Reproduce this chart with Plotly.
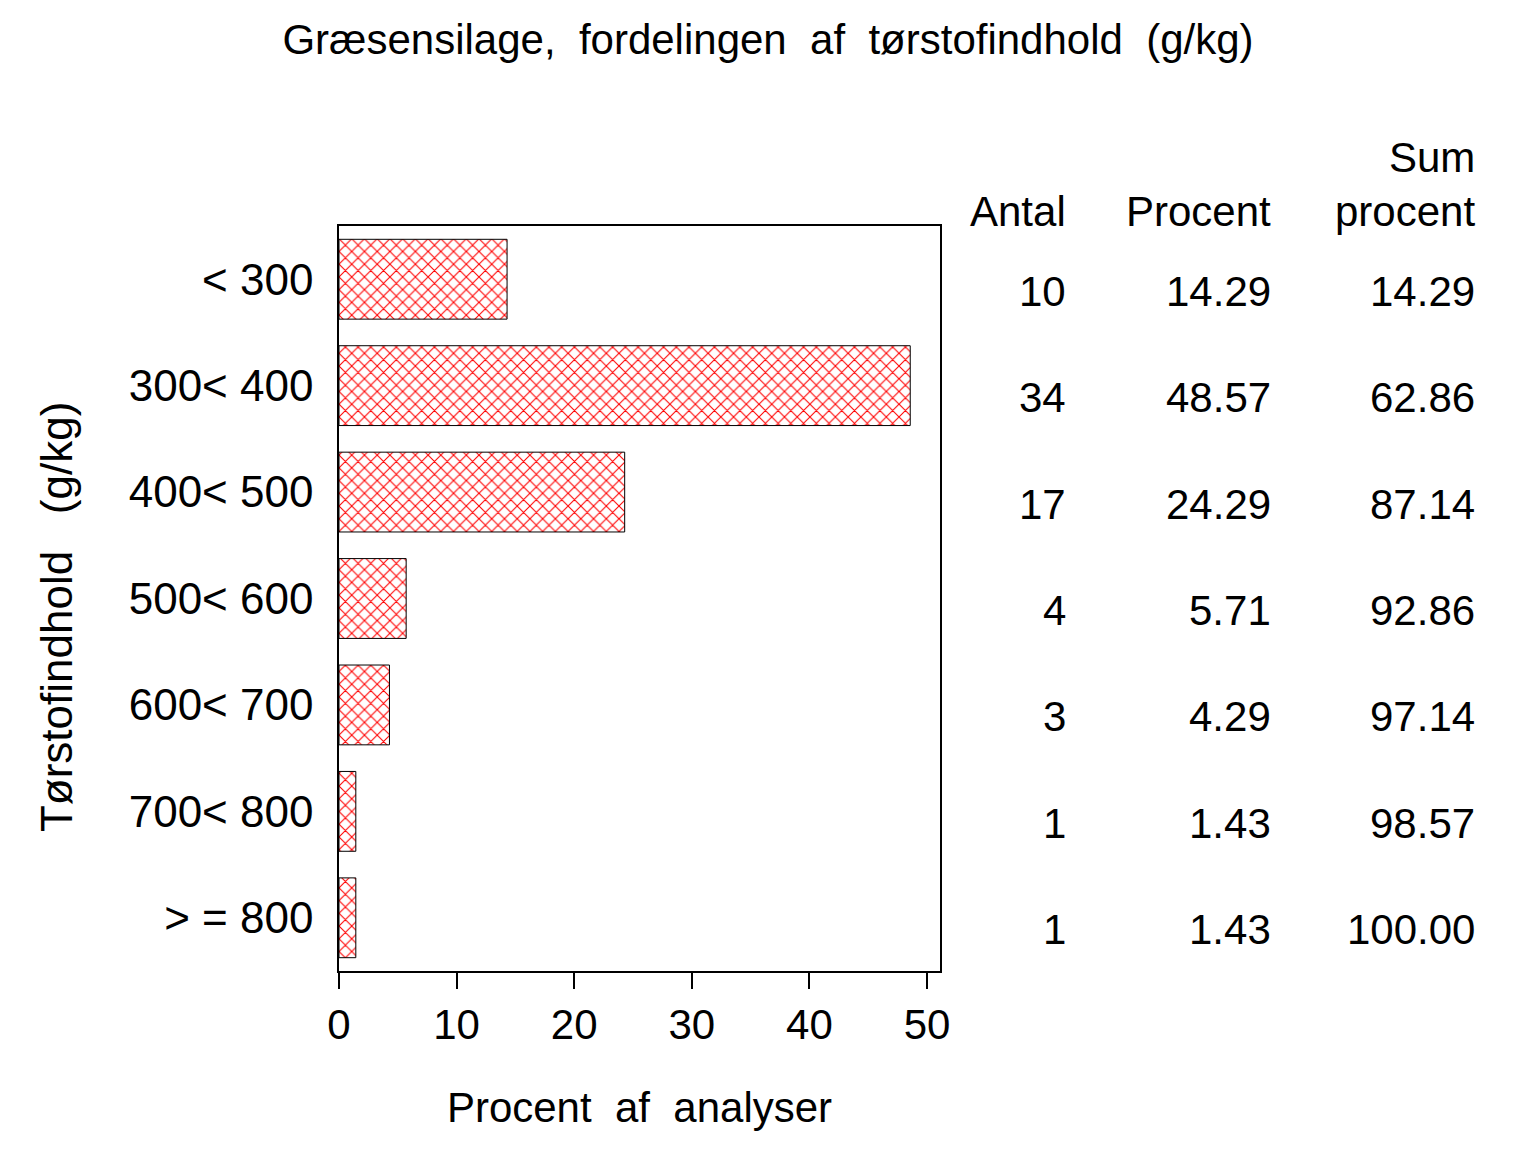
import plotly.graph_objects as go

# data
klasser = ["< 300", "300< 400", "400< 500", "500< 600", "600< 700", "700< 800", "> = 800"]
antal = [10, 34, 17, 4, 3, 1, 1]
procent = [14.29, 48.57, 24.29, 5.71, 4.29, 1.43, 1.43]
sum_procent = [14.29, 62.86, 87.14, 92.86, 97.14, 98.57, 100.00]
x_ticks = [0, 10, 20, 30, 40, 50]

font_family = "Liberation Sans, Arial, sans-serif"

fig = go.Figure()
fig.add_trace(go.Bar(
    x=procent, y=klasser, orientation="h",
    marker=dict(
        color="white",
        line=dict(color="black", width=1),
        pattern=dict(shape="x", fgcolor="red", bgcolor="white", fgopacity=1,
                     size=9, solidity=0.22),
    ),
    showlegend=False,
))

# table of counts and percentages to the right of the plot
cols = [(1.213, antal, "{:d}"), (1.554, procent, "{:.2f}"), (1.8935, sum_procent, "{:.2f}")]
annotations = []
for xpos, values, fmt in cols:
    for kat, v in zip(klasser, values):
        annotations.append(dict(
            x=xpos, xref="paper", y=kat, yref="y", yshift=-12,
            text=fmt.format(v), showarrow=False, xanchor="right", yanchor="middle",
            font=dict(size=42),
        ))

headers = [(1.213, 1.0188, "Antal"), (1.554, 1.0188, "Procent"),
           (1.8935, 1.0188, "procent"), (1.8935, 1.0913, "Sum")]
for xpos, ypos, txt in headers:
    annotations.append(dict(
        x=xpos, xref="paper", y=ypos, yref="paper", text=txt, showarrow=False,
        xanchor="right", yanchor="middle", font=dict(size=42),
    ))

# y-axis title as a rotated annotation (sits a bit below the plot centre)
annotations.append(dict(
    x=-0.471, xref="paper", y=0.475, yref="paper", text="Tørstofindhold   (g/kg)",
    textangle=-90, showarrow=False, xanchor="center", yanchor="middle",
    font=dict(size=44),
))

fig.update_layout(
    width=1536, height=1152,
    paper_bgcolor="white", plot_bgcolor="white",
    font=dict(family=font_family, color="black", size=42),
    margin=dict(l=331, r=604, t=218, b=189),
    bargap=0.25,
    title=dict(
        text="Græsensilage,  fordelingen  af  tørstofindhold  (g/kg)",
        x=0.4948, xref="container", xanchor="center",
        y=1 - 31 / 1152, yref="container", yanchor="middle",
        font=dict(size=42),
    ),
    annotations=annotations,
)
fig.update_xaxes(
    range=[0, 51.1], tickvals=x_ticks, ticks="outside", ticklen=16, tickwidth=1.5,
    tickcolor="black", showline=True, linecolor="black", linewidth=1.5, mirror=True,
    showgrid=False, zeroline=False, tickfont=dict(size=42),
    title=dict(text="Procent  af  analyser", standoff=45, font=dict(size=42)),
)
fig.update_yaxes(
    categoryorder="array", categoryarray=klasser, autorange="reversed",
    ticks="", ticklabelstandoff=15, showline=True, linecolor="black", linewidth=1.5,
    mirror=True, showgrid=False, zeroline=False, tickfont=dict(size=44),
)

fig.write_html("out.html")
